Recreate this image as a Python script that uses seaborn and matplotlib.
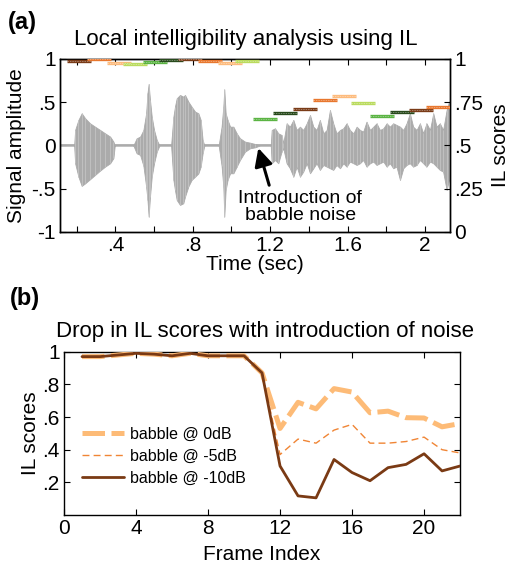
import numpy as np
import pandas as pd
import matplotlib
matplotlib.use("Agg")
import matplotlib.pyplot as plt
import seaborn as sns

sns.set_theme(style="white")
plt.rcParams['font.family'] = ['Liberation Sans', 'DejaVu Sans']
plt.rcParams['text.color'] = 'black'
plt.rcParams['axes.labelcolor'] = 'black'
plt.rcParams['xtick.color'] = 'black'
plt.rcParams['ytick.color'] = 'black'

# ---------------- data: panel (a) ----------------
# speech waveform envelope (time in s, upper / lower amplitude)
wave_t = [0.114, 0.187, 0.192, 0.209, 0.226, 0.244, 0.269, 0.295, 0.321, 0.347, 0.373, 0.390, 0.397,
          0.493, 0.510, 0.528, 0.545, 0.559, 0.566, 0.572, 0.579, 0.588, 0.600, 0.614, 0.628,
          0.688, 0.700, 0.708, 0.717, 0.734, 0.751, 0.760, 0.777, 0.794, 0.812, 0.829, 0.841, 0.851, 0.860,
          0.934, 0.949, 0.958, 0.963, 0.970, 0.980, 0.993, 1.010, 1.027, 1.044, 1.070, 1.096, 1.122, 1.148,
          1.203, 1.208, 1.225, 1.242, 1.259, 1.268, 1.285, 1.302, 1.320, 1.337, 1.354, 1.371, 1.389, 1.406,
          1.423, 1.440, 1.457, 1.475, 1.492, 1.509, 1.526, 1.543, 1.561, 1.578, 1.595, 1.612, 1.630, 1.647,
          1.664, 1.681, 1.698, 1.716, 1.733, 1.750, 1.767, 1.785, 1.802, 1.819, 1.836, 1.853, 1.871, 1.888,
          1.905, 1.922, 1.939, 1.957, 1.974, 1.991, 2.008, 2.026, 2.043, 2.060, 2.077, 2.094, 2.112, 2.124]
wave_hi = [0, 0, 0.179, 0.295, 0.372, 0.314, 0.256, 0.217, 0.179, 0.140, 0.102, 0.044, 0,
           0, 0.083, 0.102, 0.179, 0.372, 0.603, 0.711, 0.526, 0.333, 0.179, 0.063, 0,
           0, 0.333, 0.449, 0.545, 0.584, 0.564, 0.584, 0.507, 0.449, 0.391, 0.372, 0.295, 0.063, 0,
           0, 0.217, 0.449, 0.649, 0.372, 0.295, 0.217, 0.217, 0.140, 0.083, 0.044, 0.032, 0.017, 0,
           0, 0.179, 0.198, 0.140, 0.121, 0.025, 0.256, 0.217, 0.295, 0.179, 0.217, 0.179, 0.256, 0.352,
           0.217, 0.179, 0.295, 0.140, 0.179, 0.410, 0.256, 0.140, 0.179, 0.198, 0.256, 0.179, 0.140, 0.217,
           0.179, 0.160, 0.275, 0.179, 0.217, 0.256, 0.179, 0.198, 0.256, 0.217, 0.256, 0.237, 0.217, 0.179,
           0.256, 0.372, 0.217, 0.179, 0.256, 0.140, 0.256, 0.179, 0.372, 0.217, 0.256, 0.179, 0.410, 0.507]
wave_lo = [0, 0, -0.206, -0.361, -0.468, -0.438, -0.391, -0.341, -0.291, -0.245, -0.206, -0.146, 0,
           0, -0.091, -0.110, -0.236, -0.476, -0.630, -0.823, -0.592, -0.361, -0.206, -0.072, 0,
           0, -0.399, -0.515, -0.630, -0.688, -0.669, -0.592, -0.476, -0.399, -0.361, -0.323, -0.245, -0.091, 0,
           0, -0.236, -0.476, -0.823, -0.515, -0.399, -0.322, -0.322, -0.245, -0.168, -0.072, -0.033, -0.022, 0,
           0, -0.206, -0.168, -0.206, -0.072, -0.033, -0.206, -0.264, -0.361, -0.245, -0.361, -0.303, -0.206, -0.322,
           -0.264, -0.206, -0.283, -0.226, -0.245, -0.264, -0.283, -0.226, -0.264, -0.206, -0.245, -0.187, -0.206, -0.226,
           -0.206, -0.168, -0.245, -0.206, -0.187, -0.226, -0.206, -0.187, -0.245, -0.206, -0.264, -0.245, -0.399, -0.264,
           -0.226, -0.206, -0.245, -0.226, -0.168, -0.206, -0.245, -0.187, -0.206, -0.245, -0.283, -0.303, -0.515, -0.399]

# local IL scores per analysis window (window start time, score)
seg_start = [0.152, 0.252, 0.356, 0.441, 0.542, 0.627, 0.725, 0.829, 0.932, 1.018,
             1.113, 1.216, 1.316, 1.420, 1.518, 1.616, 1.716, 1.819, 1.917, 2.003]
seg_score = [0.990, 1.000, 0.975, 0.973, 0.984, 0.994, 1.000, 0.988, 0.977, 0.990,
             0.655, 0.690, 0.711, 0.761, 0.786, 0.746, 0.670, 0.692, 0.705, 0.723]
seg_len = 0.124
seg_colors = ['#7A3B17', '#E8772E', '#FDBB7D', '#BADB5E', '#5BB443', '#284A1C']

# ---------------- data: panel (b) ----------------
frames = list(range(1, 23))
il_0db = [0.97, 0.97, 0.98, 0.99, 0.985, 0.975, 0.99, 0.975, 0.975, 0.975, 0.87,
          0.53, 0.69, 0.65, 0.774, 0.753, 0.626, 0.636, 0.596, 0.594, 0.54, 0.56]
il_m5db = [0.97, 0.97, 0.98, 0.99, 0.985, 0.975, 0.99, 0.975, 0.975, 0.975, 0.87,
           0.37, 0.465, 0.44, 0.52, 0.555, 0.44, 0.44, 0.45, 0.477, 0.40, 0.38]
il_m10db = [0.97, 0.97, 0.98, 0.99, 0.985, 0.975, 0.99, 0.975, 0.975, 0.975, 0.87,
            0.30, 0.117, 0.105, 0.34, 0.26, 0.21, 0.29, 0.31, 0.375, 0.27, 0.30]
series_labels = ['babble @ 0dB', 'babble @ -5dB', 'babble @ -10dB']

# ---------------- figure ----------------
fig = plt.figure(figsize=(5.13, 5.67), dpi=100)
TICK = 15
LAB = 15

# ---- panel (a)
ax1 = fig.add_axes([0.117, 0.591, 0.760, 0.305])
ax1.set_xlim(0.114, 2.129)
ax1.set_ylim(-1, 1)
ax1.axhline(0, color='#A6A6A6', lw=1.2, zorder=1)
ax1.fill_between(wave_t, wave_lo, wave_hi, color='#ABABAB', lw=0.6, edgecolor='#ABABAB', zorder=2)
ax1.vlines(wave_t, wave_lo, wave_hi, colors='#C4C4C4', lw=0.6, zorder=2.5)

ax2 = ax1.twinx()
ax2.set_ylim(0, 1)
for i, (s, v) in enumerate(zip(seg_start, seg_score)):
    c = seg_colors[i % len(seg_colors)]
    ax2.hlines(v, s, s + seg_len, colors=c, lw=2.4, zorder=3)
    ax2.hlines(v, s, s + seg_len, colors='white', lw=0.7, alpha=0.35,
               linestyles=(0, (1.5, 1.0)), zorder=4)

ax1.set_xticks([0.2, 0.4, 0.6, 0.8, 1.0, 1.2, 1.4, 1.6, 1.8, 2.0])
ax1.set_xticklabels(['', '.4', '', '.8', '', '1.2', '', '1.6', '', '2'])
ax1.set_yticks([-1, -0.5, 0, 0.5, 1])
ax1.set_yticklabels(['-1', '-.5', '0', '.5', '1'])
ax2.set_yticks([0, 0.25, 0.5, 0.75, 1])
ax2.set_yticklabels(['0', '.25', '.5', '.75', '1'])
ax1.tick_params(axis='both', direction='in', length=4, width=0.8, labelsize=TICK, colors='black',
                left=True, bottom=True, top=True, right=False, pad=3)
ax2.tick_params(axis='y', direction='in', length=4, width=0.8, labelsize=TICK, colors='black',
                right=True, pad=3)
for ax in (ax1, ax2):
    for sp in ax.spines.values():
        sp.set_color('black')
        sp.set_linewidth(1.0)
ax1.set_xlabel('Time (sec)', fontsize=LAB, labelpad=0)
ax1.set_ylabel('Signal amplitude', fontsize=LAB, labelpad=4)
ax2.set_ylabel('IL scores', fontsize=LAB, labelpad=6)

ax1.annotate('', xy=(1.139, -0.03), xytext=(1.195, -0.46),
             arrowprops=dict(arrowstyle='-|>,head_length=0.9,head_width=0.45',
                             color='black', lw=2.2, shrinkA=0, shrinkB=0), zorder=6)
ax1.text(1.355, -0.71, 'Introduction of\nbabble noise', ha='center', va='center',
         fontsize=14, linespacing=1.05, zorder=6)

fig.text(246 / 513, 1 - 40 / 567, 'Local intelligibility analysis using IL',
         ha='center', va='center', fontsize=16)
fig.text(8 / 513, 1 - 22 / 567, '(a)', ha='left', va='center', fontsize=17, fontweight='bold')

# ---- panel (b)
ax3 = fig.add_axes([0.1248, 0.0917, 0.772, 0.288])
ax3.set_xlim(0, 22)
ax3.set_ylim(0, 1)
df = pd.DataFrame({'frame': frames * 3,
                   'il': il_0db + il_m5db + il_m10db,
                   'cond': [series_labels[0]] * 22 + [series_labels[1]] * 22 + [series_labels[2]] * 22})
styles = {
    series_labels[0]: dict(color='#FDBB77', lw=3.6, ls=(0, (4.5, 1.3))),
    series_labels[1]: dict(color='#F08535', lw=1.0, ls=(0, (5, 3))),
    series_labels[2]: dict(color='#7A3A14', lw=2.0, ls='-'),
}
for lab in series_labels:
    st = styles[lab]
    sns.lineplot(data=df[df['cond'] == lab], x='frame', y='il', ax=ax3, color=st['color'],
                 linewidth=st['lw'], linestyle=st['ls'], label=lab, zorder=3)
ax3.set_xticks([0, 4, 8, 12, 16, 20])
ax3.set_xticklabels(['0', '4', '8', '12', '16', '20'])
ax3.set_yticks([0.2, 0.4, 0.6, 0.8, 1.0])
ax3.set_yticklabels(['.2', '.4', '.6', '.8', '1'])
ax3.tick_params(axis='both', direction='in', length=4, width=0.8, labelsize=TICK, colors='black',
                left=True, bottom=True, top=True, right=True, pad=3)
for sp in ax3.spines.values():
    sp.set_color('black')
    sp.set_linewidth(1.0)
ax3.set_xlabel('Frame Index', fontsize=LAB, labelpad=5)
ax3.set_ylabel('IL scores', fontsize=LAB, labelpad=2)
leg = ax3.legend(loc='upper left', bbox_to_anchor=(0.03, 0.58), frameon=False, fontsize=11.5,
                 handlelength=2.6, handletextpad=0.4, labelspacing=0.45, borderaxespad=0)
for t in leg.get_texts():
    t.set_color('black')

fig.text(265 / 513, 1 - 332 / 567, 'Drop in IL scores with introduction of noise',
         ha='center', va='center', fontsize=16)
fig.text(10 / 513, 1 - 298 / 567, '(b)', ha='left', va='center', fontsize=17, fontweight='bold')

fig.savefig('out.png', dpi=100)
